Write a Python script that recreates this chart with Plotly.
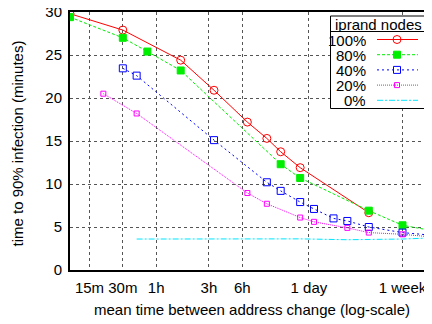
import plotly.graph_objects as go

# ---------------- data (x in minutes, y in minutes to 90% infection) ----------------
series_names = ["100%", "80%", "40%", "20%", "0%"]

x_100 = [10, 30, 100, 200, 400, 600, 800, 1200, 5000]
y_100 = [29.8, 27.9, 24.4, 20.9, 17.2, 15.3, 13.75, 11.9, 6.66]

x_80 = [10, 30, 50, 100, 800, 1200, 5000, 10080, 20160]
y_80 = [29.4, 27.0, 25.4, 23.2, 12.3, 10.7, 6.9, 5.2, 4.5]

x_40 = [30, 40, 200, 600, 800, 1200, 1600, 2400, 3200, 5000, 10080, 20160]
y_40 = [23.45, 22.6, 15.1, 10.2, 9.2, 7.9, 7.1, 6.0, 5.7, 5.0, 4.35, 4.0]

x_20 = [20, 40, 400, 600, 1200, 1600, 3200, 5000, 10080, 20160]
y_20 = [20.5, 18.2, 8.95, 7.7, 6.1, 5.6, 4.9, 4.35, 4.15, 3.8]

x_0 = [40, 200, 600, 1200, 3200, 10080, 20160]
y_0 = [3.6, 3.62, 3.65, 3.62, 3.52, 3.6, 3.75]

x_tick_vals = [15, 30, 60, 180, 360, 1440, 10080]
x_tick_text = ["15m", "30m", "1h", "3h", "6h", "1 day", "1 week"]
y_tick_vals = [0, 5, 10, 15, 20, 25, 30]

# ---------------- styles ----------------
FONT = "Liberation Sans, Arial, Helvetica, sans-serif"
FS = 15
PAGE_OFF = 8  # default body margin of the page
styles = [
    dict(color="#ff0000", dash="solid", symbol="circle-open", size=8),
    dict(color="#00ee00", dash="3px,2px", symbol="square", size=7),
    dict(color="#0000ff", dash="2px,3px", symbol="square-open", size=7),
    dict(color="#ff00ff", dash="1px,1px", symbol="square-open", size=5),
    dict(color="#00e5ff", dash="6px,2px,2px,2px", symbol="circle", size=1),
]
xs = [x_100, x_80, x_40, x_20, x_0]
ys = [y_100, y_80, y_40, y_20, y_0]

fig = go.Figure()
for name, x, y, st in zip(series_names, xs, ys, styles):
    fig.add_trace(go.Scatter(
        x=x, y=y, name=name, mode="lines+markers" if st["size"] > 1 else "lines",
        line=dict(color=st["color"], dash=st["dash"], width=1),
        marker=dict(symbol=st["symbol"], size=st["size"], color=st["color"],
                    line=dict(color=st["color"], width=1)),
        showlegend=False, xaxis="x", yaxis="y", cliponaxis=True,
    ))

# ---------------- gnuplot-like legend on an overlay axis in page-pixel units ----------------
bx0, bx1, by0, by1, bsep = 330.5, 426.5, 16, 108.5, 31.5
fig.add_trace(go.Scatter(
    x=[bx0, bx1, bx1, bx0, bx0], y=[by0, by0, by1, by1, by0],
    mode="lines", fill="toself", fillcolor="white",
    line=dict(color="black", width=1), showlegend=False, hoverinfo="skip",
    xaxis="x2", yaxis="y2",
))
fig.add_trace(go.Scatter(
    x=[bx0, bx1], y=[bsep, bsep], mode="lines",
    line=dict(color="black", width=1), showlegend=False, hoverinfo="skip",
    xaxis="x2", yaxis="y2",
))
entry_y = [39.5, 54.7, 69.9, 85.1, 100.3]
annotations = []
for name, st, ey in zip(series_names, styles, entry_y):
    fig.add_trace(go.Scatter(
        x=[377, 418], y=[ey, ey], mode="lines",
        line=dict(color=st["color"], dash=st["dash"], width=1),
        showlegend=False, hoverinfo="skip", xaxis="x2", yaxis="y2",
    ))
    if st["size"] > 1:
        fig.add_trace(go.Scatter(
            x=[397], y=[ey], mode="markers",
            marker=dict(symbol=st["symbol"], size=st["size"], color=st["color"],
                        line=dict(color=st["color"], width=1)),
            showlegend=False, hoverinfo="skip", xaxis="x2", yaxis="y2",
        ))
    annotations.append(dict(
        x=367, y=ey, xref="x2", yref="y2", text=name, showarrow=False,
        xanchor="right", yanchor="middle", height=14, borderpad=0,
        font=dict(family=FONT, size=FS, color="black"),
    ))
annotations.append(dict(
    x=378, y=24, xref="x2", yref="y2", text="iprand nodes", showarrow=False,
    xanchor="center", yanchor="middle", height=14, borderpad=0,
    font=dict(family=FONT, size=FS, color="black"),
))
# axis titles (paper coords, plot area = page x 70..432, y 12..270)
annotations.append(dict(
    x=(252 - 70) / 362, y=(270 - 309) / 258, xref="paper", yref="paper",
    text="mean time between address change (log-scale)",
    showarrow=False, xanchor="center", yanchor="middle",
    font=dict(family=FONT, size=FS, color="black"),
))
annotations.append(dict(
    x=(17 - 70) / 362, y=(270 - 143.5) / 258, xref="paper", yref="paper",
    text="time to 90% infection (minutes)",
    showarrow=False, xanchor="center", yanchor="middle", textangle=-90,
    font=dict(family=FONT, size=FS, color="black"),
))

grid = dict(gridcolor="#555555", griddash="dot", gridwidth=1)
fig.update_layout(
    width=432 - PAGE_OFF, height=324 - PAGE_OFF,
    margin=dict(l=70 - PAGE_OFF, r=0, t=12 - PAGE_OFF, b=54, pad=0, autoexpand=False),
    paper_bgcolor="white", plot_bgcolor="white",
    showlegend=False,
    font=dict(family=FONT, size=FS, color="black"),
    xaxis=dict(
        type="log", range=[1.0, 4.27], tickvals=x_tick_vals, ticktext=x_tick_text,
        showgrid=True, **grid, zeroline=False, automargin=False,
        showline=True, linecolor="black", linewidth=2, mirror=True,
        ticks="outside", ticklen=3, tickcolor="rgba(0,0,0,0)",
        ticklabeloverflow="allow",
        tickfont=dict(family=FONT, size=FS, color="black"),
    ),
    yaxis=dict(
        range=[0, 30], tickvals=y_tick_vals,
        showgrid=True, **grid, zeroline=False, automargin=False,
        showline=True, linecolor="black", linewidth=2, mirror=False,
        ticks="outside", ticklen=3, tickcolor="rgba(0,0,0,0)",
        ticklabeloverflow="allow",
        tickfont=dict(family=FONT, size=FS, color="black"),
    ),
    xaxis2=dict(range=[70, 432], overlaying="x", visible=False, domain=[0, 1],
                anchor="y2", fixedrange=True, automargin=False),
    yaxis2=dict(range=[270, 12], overlaying="y", visible=False, domain=[0, 1],
                anchor="x2", fixedrange=True, automargin=False),
    annotations=annotations,
)

fig.write_html("out.html")
